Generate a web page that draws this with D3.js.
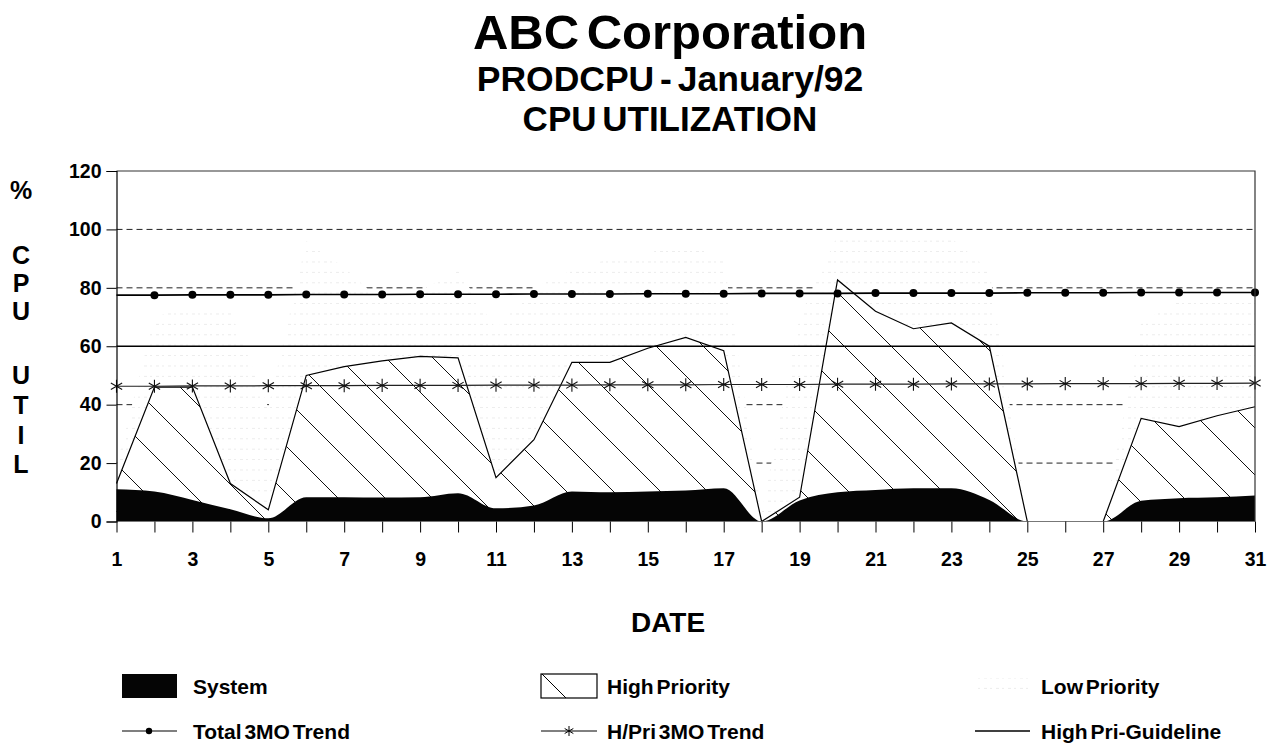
<!DOCTYPE html>
<html>
<head>
<meta charset="utf-8">
<script src="https://cdn.jsdelivr.net/npm/d3@7"></script>
<style>
    body { margin: 0; background: #fff; }
    svg { display: block; font-family: 'Liberation Sans', Arial, sans-serif; font-weight: bold; }
</style>
</head>
<body>
<svg id="chart"></svg>
<script>
const days = [1, 2, 3, 4, 5, 6, 7, 8, 9, 10, 11, 12, 13, 14, 15, 16, 17, 18, 19, 20, 21, 22, 23, 24, 25, 26, 27, 28, 29, 30, 31];
const systemPct = [11, 10.3, 7.4, 4.2, 1.1, 8.3, 8.3, 8.2, 8.3, 9.7, 4.5, 5.5, 10.3, 10, 10.3, 10.6, 11.4, 0, 7.2, 10, 10.8, 11.4, 11.4, 7.4, 0, 0, 0, 7.1, 8, 8.3, 8.9];
const highPct = [2, 35.7, 38.6, 8.8, 2.9, 41.7, 44.7, 46.8, 48.2, 46.3, 10.5, 22.5, 44.2, 44.5, 49, 52.4, 47.1, 0, 1.1, 72.7, 61.2, 54.6, 56.6, 52.6, 0, 0, 0, 28.2, 24.5, 27.9, 30.4];
const lowPct = [6, 24, 28, 59, 35, 46, 34, 20, 22.5, 30, 51, 52, 31.5, 35.5, 32.7, 32, 31.5, 3, 61.7, 15.3, 26, 30, 29, 26, 0, 0, 0, 32.7, 43.5, 38.8, 36.7];
const totalTrend = [77.5, 77.5, 77.6, 77.6, 77.6, 77.7, 77.7, 77.7, 77.8, 77.8, 77.8, 77.9, 77.9, 77.9, 78.0, 78.0, 78.0, 78.1, 78.1, 78.1, 78.2, 78.2, 78.2, 78.2, 78.3, 78.3, 78.3, 78.4, 78.4, 78.4, 78.4];
const hpriTrend = [46.3, 46.3, 46.4, 46.4, 46.5, 46.5, 46.5, 46.6, 46.6, 46.6, 46.7, 46.7, 46.7, 46.8, 46.8, 46.8, 46.9, 46.9, 46.9, 47.0, 47.0, 47.0, 47.1, 47.1, 47.1, 47.2, 47.2, 47.2, 47.3, 47.3, 47.4];
const guideline = 60;
const yTicks = [0, 20, 40, 60, 80, 100, 120];
const gridValues = [20, 40, 80, 100];
const titleLines = ['ABC Corporation', 'PRODCPU - January/92', 'CPU UTILIZATION'];
const yLabelChars = ['%', 'C', 'P', 'U', 'U', 'T', 'I', 'L'];

const width = 1270, height = 745;
const svg = d3.select('#chart').attr('width', width).attr('height', height);

const x = d3.scaleLinear().domain([1, 31]).range([116.5, 1255]);
const y = d3.scaleLinear().domain([0, 120]).range([521.5, 171]);

const rows = days.map((d, i) => ({
    day: d,
    system: systemPct[i],
    high: highPct[i],
    low: lowPct[i],
}));
const stacked = d3.stack().keys(['system', 'high', 'low'])(rows);

// patterns
const defs = svg.append('defs');
const hatch = defs.append('pattern')
    .attr('id', 'hatch')
    .attr('patternUnits', 'userSpaceOnUse')
    .attr('width', 47)
    .attr('height', 47)
    .attr('patternTransform', 'translate(28,0)');
hatch.append('rect').attr('width', 47).attr('height', 47).attr('fill', '#fff');
hatch.append('path')
    .attr('d', 'M0,0L47,47M-1,46L1,48M46,-1L48,1')
    .attr('stroke', '#111')
    .attr('stroke-width', 1);

// low priority is printed as very faint dotted rows
const faint = defs.append('pattern')
    .attr('id', 'faint')
    .attr('patternUnits', 'userSpaceOnUse')
    .attr('width', 12)
    .attr('height', 10.4)
    .attr('y', 1.5);
faint.append('rect').attr('width', 12).attr('height', 10.4).attr('fill', '#fff');
faint.append('path')
    .attr('d', 'M0,0.5H3M6,0.5H8')
    .attr('stroke', '#ebebeb')
    .attr('stroke-width', 1);

// title
svg.append('g')
    .selectAll('text')
    .data(titleLines)
    .join('text')
    .attr('x', 670)
    .attr('y', (d, i) => [49, 91, 131][i])
    .attr('text-anchor', 'middle')
    .attr('font-size', (d, i) => [49, 35.5, 35][i])
    .attr('word-spacing', (d, i) => (i === 0 ? -6 : -4))
    .attr('fill', '#000')
    .text(d => d);

// y axis title, one letter per line
svg.append('g')
    .selectAll('text')
    .data(yLabelChars)
    .join('text')
    .attr('x', 21)
    .attr('y', (d, i) => [199, 264, 292, 320, 384, 414, 444, 473][i])
    .attr('text-anchor', 'middle')
    .attr('font-size', 25)
    .text(d => d);

const plot = svg.append('g');

// dashed gridlines, covered by the areas where they are higher
plot.append('g')
    .selectAll('line')
    .data(gridValues)
    .join('line')
    .attr('x1', x(1))
    .attr('x2', x(31))
    .attr('y1', d => y(d))
    .attr('y2', d => y(d))
    .attr('stroke', '#222')
    .attr('stroke-width', 1)
    .attr('stroke-dasharray', '6,4');

const lowLayer = stacked[2];
const highLayer = stacked[1];
const sysLayer = stacked[0];

const areaLinear = d3.area()
    .x(d => x(d.data.day))
    .y0(y(0))
    .y1(d => y(d[1]));
const lineLinear = d3.line()
    .x(d => x(d.data.day))
    .y(d => y(d[1]));
const areaSmooth = d3.area()
    .curve(d3.curveMonotoneX)
    .x(d => x(d.data.day))
    .y0(y(0))
    .y1(d => y(d[1]));

plot.append('path')
    .datum(lowLayer)
    .attr('d', areaLinear)
    .attr('fill', 'url(#faint)');

plot.append('path')
    .datum(highLayer)
    .attr('d', areaLinear)
    .attr('fill', 'url(#hatch)');
plot.append('path')
    .datum(highLayer)
    .attr('d', lineLinear)
    .attr('fill', 'none')
    .attr('stroke', '#000')
    .attr('stroke-width', 1.2);

plot.append('path')
    .datum(sysLayer)
    .attr('d', areaSmooth)
    .attr('fill', '#050505');

// baseline
plot.append('line')
    .attr('x1', x(1))
    .attr('x2', x(31))
    .attr('y1', y(0))
    .attr('y2', y(0))
    .attr('stroke', '#777')
    .attr('stroke-width', 1);

// high priority guideline
plot.append('line')
    .attr('x1', x(1))
    .attr('x2', x(31))
    .attr('y1', y(guideline))
    .attr('y2', y(guideline))
    .attr('stroke', '#000')
    .attr('stroke-width', 1.5);

// H/Pri 3MO trend
const trendLine = d3.line()
    .x((d, i) => x(days[i]))
    .y(d => y(d));

plot.append('path')
    .datum(hpriTrend)
    .attr('d', trendLine)
    .attr('fill', 'none')
    .attr('stroke', '#222')
    .attr('stroke-width', 1.2);
plot.append('g')
    .selectAll('path')
    .data(hpriTrend)
    .join('path')
    .attr('transform', (d, i) => `translate(${x(days[i])},${y(d)})`)
    .attr('d', d3.symbol(d3.symbolAsterisk, 120))
    .attr('fill', 'none')
    .attr('stroke', '#111')
    .attr('stroke-width', 1.1);

// Total 3MO trend (first day has no marker in the original)
plot.append('path')
    .datum(totalTrend)
    .attr('d', trendLine)
    .attr('fill', 'none')
    .attr('stroke', '#000')
    .attr('stroke-width', 1.6);
plot.append('g')
    .selectAll('circle')
    .data(totalTrend.slice(1))
    .join('circle')
    .attr('cx', (d, i) => x(days[i + 1]))
    .attr('cy', d => y(d))
    .attr('r', 4)
    .attr('fill', '#000');

// frame
plot.append('path')
    .attr('d', `M${x(1)},${y(120)}H${x(31)}V${y(0)}`)
    .attr('fill', 'none')
    .attr('stroke', '#333')
    .attr('stroke-width', 1.2);

// axes
const yAxis = svg.append('g')
    .attr('transform', `translate(${x(1)},0)`)
    .call(d3.axisLeft(y).tickValues(yTicks).tickSize(10).tickPadding(5));
const xAxis = svg.append('g')
    .attr('transform', `translate(0,${y(0)})`)
    .call(
        d3.axisBottom(x)
            .tickValues(days)
            .tickSize(11)
            .tickPadding(20)
            .tickFormat(d => (d % 2 ? d : ''))
    );
xAxis.select('.domain').remove();
[yAxis, xAxis].forEach(ax => {
    ax.selectAll('.domain').attr('stroke', '#000').attr('stroke-width', 1.2);
    ax.selectAll('.tick line').attr('stroke', '#000').attr('stroke-width', 1);
    ax.selectAll('.tick text')
        .attr('fill', '#000')
        .attr('font-family', "'Liberation Sans', Arial, sans-serif")
        .attr('font-weight', 'bold')
        .attr('font-size', 19.5);
});

svg.append('text')
    .attr('x', 668)
    .attr('y', 632)
    .attr('text-anchor', 'middle')
    .attr('font-size', 28)
    .text('DATE');

// legend
const legend = svg.append('g').attr('font-size', 21);
const rowY = [686, 731];
const colX = [122, 541, 975];

legend.append('rect')
    .attr('x', colX[0]).attr('y', rowY[0] - 12)
    .attr('width', 55).attr('height', 24)
    .attr('fill', '#050505');
legend.append('rect')
    .attr('x', colX[1]).attr('y', rowY[0] - 12)
    .attr('width', 56).attr('height', 24)
    .attr('fill', '#fff')
    .attr('stroke', '#000')
    .attr('stroke-width', 1.2);
legend.append('line')
    .attr('x1', colX[1] + 1).attr('y1', rowY[0] - 12)
    .attr('x2', colX[1] + 25).attr('y2', rowY[0] + 12)
    .attr('stroke', '#000')
    .attr('stroke-width', 1);
legend.append('rect')
    .attr('x', colX[2]).attr('y', rowY[0] - 8)
    .attr('width', 55).attr('height', 16)
    .attr('fill', 'url(#faint)');

legend.append('line')
    .attr('x1', colX[0]).attr('x2', colX[0] + 55)
    .attr('y1', rowY[1]).attr('y2', rowY[1])
    .attr('stroke', '#000').attr('stroke-width', 1.2);
legend.append('circle')
    .attr('cx', colX[0] + 27).attr('cy', rowY[1]).attr('r', 3.2)
    .attr('fill', '#000');
legend.append('line')
    .attr('x1', colX[1]).attr('x2', colX[1] + 56)
    .attr('y1', rowY[1]).attr('y2', rowY[1])
    .attr('stroke', '#000').attr('stroke-width', 1);
legend.append('path')
    .attr('transform', `translate(${colX[1] + 28},${rowY[1]})`)
    .attr('d', d3.symbol(d3.symbolAsterisk, 70))
    .attr('fill', 'none')
    .attr('stroke', '#000')
    .attr('stroke-width', 1);
legend.append('line')
    .attr('x1', colX[2]).attr('x2', colX[2] + 55)
    .attr('y1', rowY[1]).attr('y2', rowY[1])
    .attr('stroke', '#000').attr('stroke-width', 1.6);

const legendLabels = [
    ['System', 'High Priority', 'Low Priority'],
    ['Total 3MO Trend', 'H/Pri 3MO Trend', 'High Pri-Guideline'],
];
legendLabels.forEach((row, r) => {
    legend.append('g')
        .selectAll('text')
        .data(row)
        .join('text')
        .attr('x', (d, c) => colX[c] + (c === 0 ? 71 : 66))
        .attr('y', rowY[r] + 8)
        .attr('word-spacing', -3)
        .text(d => d);
});
</script>
</body>
</html>
